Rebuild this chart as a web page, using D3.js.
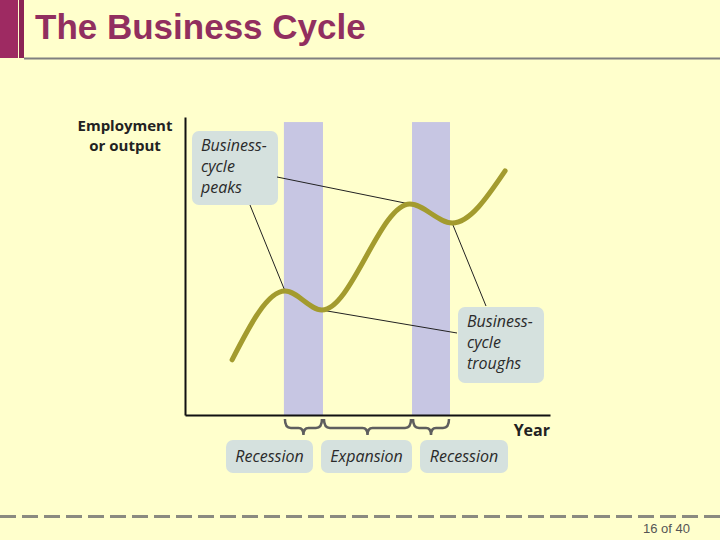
<!DOCTYPE html>
<html>
<head>
<meta charset="utf-8">
<title>The Business Cycle</title>
<script src="https://cdn.jsdelivr.net/npm/d3@7"></script>
<style>
  body { margin: 0; background: #ffffcc; }
  svg { display: block; }
</style>
</head>
<body>
<svg></svg>
<script>

// curve: time (0-100) vs level (0-100)
var curveTime  = [12.9, 27.4, 37.5, 61.6, 73.2, 87.7];
var curveLevel = [18.5, 41.6, 35.2, 70.8, 64.4, 81.9];
var peakIdx   = [1, 3];
var troughIdx = [2, 4];

// phases of the cycle
var phaseNames = ["Recession", "Expansion", "Recession"];
var phaseStart = [27.1, 37.8, 62.2];
var phaseEnd   = [37.8, 62.2, 72.6];
var recessionTop = 98.3;

var width = 720, height = 540;

var svg = d3.select("svg")
    .attr("width", width)
    .attr("height", height);

// slide frame
svg.append("rect").attr("x", 0).attr("y", 0).attr("width", 18).attr("height", 58).attr("fill", "#9e2a62");
svg.append("rect").attr("x", 19).attr("y", 0).attr("width", 5).attr("height", 58).attr("fill", "#8b2455");
svg.append("line")
    .attr("x1", 24).attr("x2", width).attr("y1", 58.5).attr("y2", 58.5)
    .attr("stroke", "#808080").attr("stroke-width", 2);
svg.append("text")
    .attr("x", 35).attr("y", 39)
    .style("font-family", "'Liberation Sans', Arial, sans-serif")
    .style("font-weight", "bold")
    .style("font-size", "35px")
    .style("fill", "#912f5f")
    .text("The Business Cycle");

svg.append("line")
    .attr("x1", 0).attr("x2", width).attr("y1", 516.5).attr("y2", 516.5)
    .attr("stroke", "#8a8a80").attr("stroke-width", 3)
    .attr("stroke-dasharray", "16,6");
svg.append("text")
    .attr("x", 690).attr("y", 533)
    .attr("text-anchor", "end")
    .style("font-family", "'Liberation Sans', Arial, sans-serif")
    .style("font-size", "13px")
    .style("fill", "#555")
    .text("16 of 40");

// chart
var x = d3.scaleLinear().domain([0, 100]).range([185, 550]);
var y = d3.scaleLinear().domain([0, 100]).range([415, 117]);

var labelFont = "'Open Sans', 'DejaVu Sans', sans-serif";

// recession bands
var recessions = phaseNames.map(function(n, i) { return {name: n, a: phaseStart[i], b: phaseEnd[i]}; });
svg.selectAll(".band")
    .data(recessions.filter(function(d) { return d.name == "Recession"; }))
    .enter().append("rect")
    .attr("class", "band")
    .attr("x", function(d) { return x(d.a); })
    .attr("width", function(d) { return x(d.b) - x(d.a); })
    .attr("y", y(recessionTop))
    .attr("height", y(0) - y(recessionTop))
    .attr("fill", "#c7c6e3");

// axes (no ticks)
svg.append("g")
    .attr("transform", "translate(0," + y(0) + ")")
    .call(d3.axisBottom(x).tickSize(0).tickValues([]))
    .call(function(g) { g.select(".domain").attr("stroke", "#111").attr("stroke-width", 2); });
svg.append("g")
    .attr("transform", "translate(" + x(0) + ",0)")
    .call(d3.axisLeft(y).tickSize(0).tickValues([]))
    .call(function(g) { g.select(".domain").attr("stroke", "#111").attr("stroke-width", 2); });

var axisLabel = svg.append("text")
    .attr("text-anchor", "middle")
    .style("font-family", labelFont)
    .style("font-weight", "bold")
    .style("font-size", "15px")
    .style("fill", "#222");
axisLabel.append("tspan").attr("x", 125).attr("y", 131).text("Employment");
axisLabel.append("tspan").attr("x", 125).attr("y", 151).text("or output");

svg.append("text")
    .attr("x", 550).attr("y", 436)
    .attr("text-anchor", "end")
    .style("font-family", labelFont)
    .style("font-weight", "bold")
    .style("font-size", "16px")
    .style("fill", "#222")
    .text("Year");

// curve
var pts = curveTime.map(function(t, i) { return [t, curveLevel[i]]; });
var line = d3.line()
    .x(function(d) { return x(d[0]); })
    .y(function(d) { return y(d[1]); })
    .curve(d3.curveMonotoneX);

// note boxes
function noteBox(bx, by, bw, bh, lines) {
    svg.append("rect")
        .attr("x", bx).attr("y", by).attr("width", bw).attr("height", bh)
        .attr("rx", 7).attr("ry", 7)
        .attr("fill", "#d5e1de");
    var t = svg.append("text")
        .style("font-family", labelFont)
        .style("font-style", "italic")
        .style("font-size", "16px")
        .style("fill", "#2a2a2a");
    lines.forEach(function(l, i) {
        t.append("tspan").attr("x", bx + 9).attr("y", by + 20 + i * 21).text(l);
    });
}
noteBox(192, 131, 86, 74, ["Business-", "cycle", "peaks"]);
noteBox(458, 307, 86, 76, ["Business-", "cycle", "troughs"]);

// leader lines
var leaders = [
    {from: [277, 177], p: pts[peakIdx[1]]},
    {from: [250, 205], p: pts[peakIdx[0]]},
    {from: [486, 306], p: pts[troughIdx[1]]},
    {from: [457, 333], p: pts[troughIdx[0]]}
];
svg.selectAll(".leader")
    .data(leaders)
    .enter().append("line")
    .attr("class", "leader")
    .attr("x1", function(d) { return d.from[0]; })
    .attr("y1", function(d) { return d.from[1]; })
    .attr("x2", function(d) { return x(d.p[0]); })
    .attr("y2", function(d) { return y(d.p[1]); })
    .attr("stroke", "#222")
    .attr("stroke-width", 1);

svg.append("path")
    .datum(pts)
    .attr("d", line)
    .attr("fill", "none")
    .attr("stroke", "#a39b2e")
    .attr("stroke-width", 5)
    .attr("stroke-linecap", "round");

// braces under the axis
function brace(a, b) {
    var y0 = 419, y1 = 428, tip = 435, m = (a + b) / 2;
    return "M" + a + "," + y0 + " Q" + a + "," + y1 + " " + (a + 6) + "," + y1 +
        " L" + (m - 5) + "," + y1 + " Q" + m + "," + y1 + " " + m + "," + tip +
        " Q" + m + "," + y1 + " " + (m + 5) + "," + y1 +
        " L" + (b - 6) + "," + y1 + " Q" + b + "," + y1 + " " + b + "," + y0;
}
svg.selectAll(".brace")
    .data(recessions)
    .enter().append("path")
    .attr("class", "brace")
    .attr("d", function(d) { return brace(x(d.a) + 1, x(d.b) - 1); })
    .attr("fill", "none")
    .attr("stroke", "#5e5e5e")
    .attr("stroke-width", 2.5);

// phase label boxes, laid out side by side
var boxW = [87, 91, 88], boxGap = 8, boxX = 226;
recessions.forEach(function(d, i) {
    svg.append("rect")
        .attr("x", boxX).attr("y", 440).attr("width", boxW[i]).attr("height", 33)
        .attr("rx", 7).attr("ry", 7)
        .attr("fill", "#d5e1de");
    svg.append("text")
        .attr("x", boxX + boxW[i] / 2).attr("y", 462)
        .attr("text-anchor", "middle")
        .style("font-family", labelFont)
        .style("font-style", "italic")
        .style("font-size", "16px")
        .style("fill", "#2a2a2a")
        .text(d.name);
    boxX += boxW[i] + boxGap;
});

</script>
</body>
</html>
